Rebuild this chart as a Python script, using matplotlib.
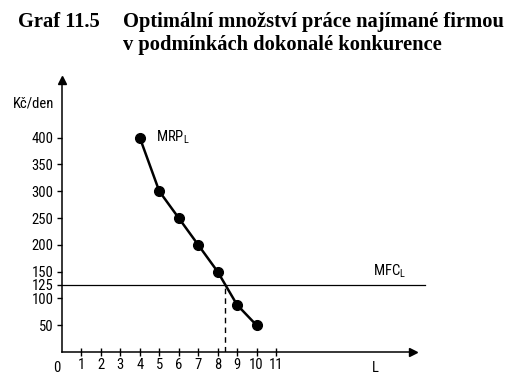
import matplotlib.pyplot as plt

plt.rcParams["font.family"] = "Roboto Condensed"
plt.rcParams["mathtext.fontset"] = "custom"
plt.rcParams["mathtext.rm"] = "Roboto Condensed"

# MRP_L curve
labour = [4, 5, 6, 7, 8, 9, 10]
mrp = [400, 300, 250, 200, 150, 88, 50]
mfc = 125  # wage per day

x_ticks = [1, 2, 3, 4, 5, 6, 7, 8, 9, 10, 11]
y_ticks = [50, 100, 125, 150, 200, 250, 300, 350, 400]

# where MFC crosses MRP (between L=8 and L=9)
i = 4
t = (mrp[i] - mfc) / (mrp[i] - mrp[i + 1])
l_opt = labour[i] + t * (labour[i + 1] - labour[i])

W, H = 531, 391
fig = plt.figure(figsize=(W / 100, H / 100), dpi=100)

x0, y0 = 62, 352           # origin in pixels
px_x, px_y = 19.45, 0.536  # pixels per unit
x_end, y_end = 413, 80
ax = fig.add_axes([x0 / W, (H - y0) / H, (x_end - x0) / W, (y0 - y_end) / H])
ax.set_xlim(0, (x_end - x0) / px_x)
ax.set_ylim(0, (y0 - y_end) / px_y)
ax.patch.set_alpha(0)

for s in ["top", "right"]:
    ax.spines[s].set_visible(False)
for s in ["left", "bottom"]:
    ax.spines[s].set_linewidth(1.1)

ax.plot(1, 0, ">", color="black", markersize=6, transform=ax.transAxes, clip_on=False)
ax.plot(0, 1, "^", color="black", markersize=6, transform=ax.transAxes, clip_on=False)

fs = 10.5
ax.set_xticks(x_ticks)
ax.set_yticks(y_ticks)
ax.tick_params(axis="x", direction="inout", length=6, width=1, pad=1.5, labelsize=fs)
ax.tick_params(axis="y", direction="out", length=3.5, width=1, pad=2.5, labelsize=fs)

ax.plot([0, (425 - x0) / px_x], [mfc, mfc], color="black", linewidth=0.9, clip_on=False)
ax.plot([l_opt, l_opt], [0, mfc], color="black", linewidth=1, linestyle=(0, (4, 3)))
ax.plot(labour, mrp, color="black", linewidth=1.8, marker="o", markersize=7, zorder=3)

ax.text(-0.25, -29, "0", fontsize=fs, ha="center", va="center", clip_on=False)
ax.text(16.1, -29, "L", fontsize=fs, ha="center", va="center", clip_on=False)
ax.text(4.85, 401, r"MRP$_\mathrm{L}$", fontsize=fs, ha="left", va="center")
ax.text(16.0, 150, r"MFC$_\mathrm{L}$", fontsize=fs, ha="left", va="center", clip_on=False)
ax.text(-2.5, 463, "Kč/den", fontsize=fs, ha="left", va="center", clip_on=False)

title_kw = dict(family="Liberation Serif", fontweight="bold", fontsize=14.8, va="baseline")
fig.text(18 / W, 1 - 27 / H, "Graf 11.5", **title_kw)
fig.text(123 / W, 1 - 27 / H, "Optimální množství práce najímané firmou", **title_kw)
fig.text(123 / W, 1 - 50 / H, "v podmínkách dokonalé konkurence", **title_kw)

fig.savefig("out.png", dpi=100)
